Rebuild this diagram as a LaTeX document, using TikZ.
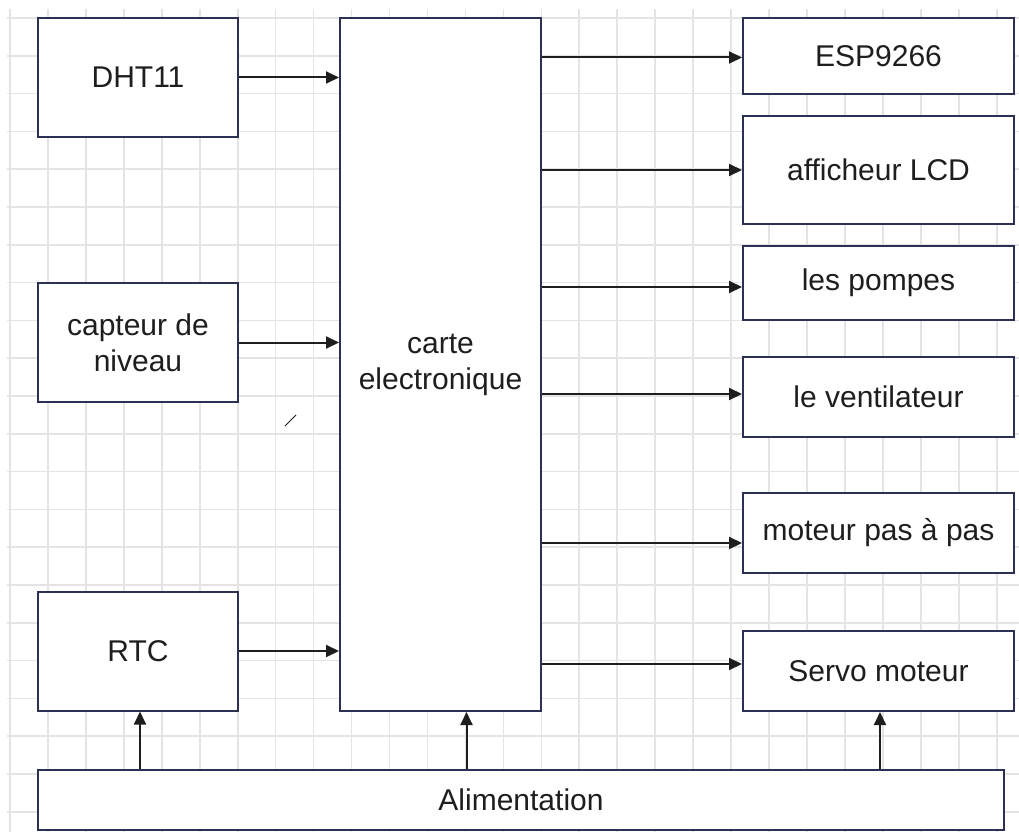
\documentclass[tikz,border=0pt]{standalone}
\usepackage{fontspec}
\setmainfont{Liberation Sans}
\usetikzlibrary{arrows.meta}

\definecolor{cadre}{HTML}{2C3154}
\definecolor{trait}{HTML}{1E1E1E}
\definecolor{quadrillage}{HTML}{E4E4E4}

\tikzset{
  bloc/.style={draw=cadre, line width=2pt, fill=white, text=trait, align=center,
    font=\fontsize{30}{36}\selectfont, inner sep=0pt},
  fleche/.style={draw=trait, line width=2pt, -{Triangle[length=13pt,width=12pt]}},
  grille/.style={draw=quadrillage, line width=1.6pt}
}

\begin{document}
\begin{tikzpicture}[x=1pt, y=-1pt]
			\useasboundingbox (0,0) rectangle (1019,832);
			% quadrillage de fond
			\foreach \i in {0,...,26} {
				\draw[grille] (10+37.95*\i,9) -- (10+37.95*\i,832);
			}
			\foreach \j in {0,...,21} {
				\draw[grille] (7,18+37.8*\j) -- (1019,18+37.8*\j);
			}
			% entrees
			\node[bloc, minimum width=200pt, minimum height=119pt](dht) at (138,77.5){DHT11};
			\node[bloc, minimum width=200pt, minimum height=119pt](capteur) at (138,342.5){capteur de\\niveau};
			\node[bloc, minimum width=200pt, minimum height=119pt](rtc) at (138,651){RTC};
			% carte
			\node[bloc, minimum width=201pt, minimum height=693pt](carte) at (440.5,364.5){carte\\electronique};
			% sorties
			\node[bloc, minimum width=271pt, minimum height=76pt](esp) at (878.5,56){ESP9266};
			\node[bloc, minimum width=271pt, minimum height=108pt](lcd) at (878.5,170){afficheur LCD};
			\node[bloc, minimum width=271pt, minimum height=74pt](pompes) at (878.5,283){les pompes};
			\node[bloc, minimum width=271pt, minimum height=80pt](ventil) at (878.5,396.5){le ventilateur};
			\node[bloc, minimum width=271pt, minimum height=80pt](moteur) at (878.5,533){moteur pas à pas};
			\node[bloc, minimum width=271pt, minimum height=80pt](servo) at (878.5,671){Servo moteur};
			% alimentation
			\node[bloc, minimum width=966pt, minimum height=60pt](alim) at (521,800){Alimentation};
			% liaisons
			\draw[fleche] (dht.east) -- (dht.east -| carte.west);
			\draw[fleche] (capteur.east) -- (capteur.east -| carte.west);
			\draw[fleche] (rtc.east) -- (rtc.east -| carte.west);
			\draw[fleche] ([yshift=-1.5pt]esp.west -| carte.east) -- ([yshift=-1.5pt]esp.west);
			\draw[fleche] (lcd.west -| carte.east) -- (lcd.west);
			\draw[fleche] ([yshift=-4pt]pompes.west -| carte.east) -- ([yshift=-4pt]pompes.west);
			\draw[fleche] ([yshift=2.5pt]ventil.west -| carte.east) -- ([yshift=2.5pt]ventil.west);
			\draw[fleche] ([yshift=-10pt]moteur.west -| carte.east) -- ([yshift=-10pt]moteur.west);
			\draw[fleche] ([yshift=7pt]servo.west -| carte.east) -- ([yshift=7pt]servo.west);
			\draw[fleche] ([xshift=2pt]rtc.south |- alim.north) -- ([xshift=2pt]rtc.south);
			\draw[fleche] ([xshift=26pt]carte.south |- alim.north) -- ([xshift=26pt]carte.south);
			\draw[fleche] ([xshift=1.5pt]servo.south |- alim.north) -- ([xshift=1.5pt]servo.south);
			% petit trait isole
			\draw[trait, line width=1pt] (285,426) -- (296,415);
\end{tikzpicture}
\end{document}
